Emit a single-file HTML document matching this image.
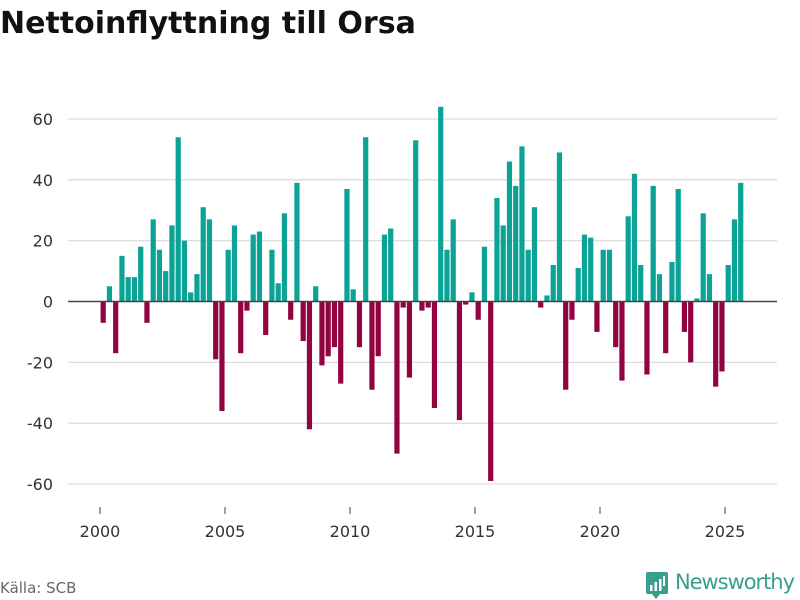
<!DOCTYPE html>
<html><head><meta charset="utf-8"><style>
body{margin:0;background:#fff;font-family:"Liberation Sans","DejaVu Sans",sans-serif;}
#wrap{position:relative;width:800px;height:600px;overflow:hidden;}
</style></head><body>
<div id="wrap">
<svg id="chart" width="800" height="600">
<text x="0" y="33" font-size="30" font-weight="bold" fill="#111" font-family="'DejaVu Sans',sans-serif">Nettoinflyttning till Orsa</text>
<g id="grid"></g><g id="bars"></g><g id="axes"></g>
<text x="0" y="593" font-size="15" fill="#666" font-family="'DejaVu Sans',sans-serif">Källa: SCB</text>
<g>
<rect x="646" y="572" width="22" height="22" rx="2" fill="#3a9e8e"/>
<polygon points="652,594 660,594 656,599" fill="#3a9e8e"/>
<rect x="650" y="585" width="2.5" height="6" fill="#fff"/><rect x="654.5" y="582" width="2.5" height="9" fill="#fff"/><rect x="659" y="579" width="2.5" height="12" fill="#fff"/><rect x="663" y="576" width="2" height="10" fill="#fff"/>
<text x="675" y="589" font-size="21" fill="#3a9e8e" font-family="'DejaVu Sans',sans-serif" textLength="120">Newsworthy</text>
</g>
</svg>
</div>
<script>
const years=[2000,2001,2002,2003,2004,2005,2006,2007,2008,2009,2010,2011,2012,2013,2014,2015,2016,2017,2018,2019,2020,2021,2022,2023,2024,2025];
const values=[-7,5,-17,15, 8,8,18,-7, 27,17,10,25, 54,20,3,9, 31,27,-19,-36, 17,25,-17,-3, 22,23,-11,17, 6,29,-6,39, -13,-42,5,-21, -18,-15,-27,37, 4,-15,54,-29, -18,22,24,-50, -2,-25,53,-3, -2,-35,64,17, 27,-39,-1,3, -6,18,-59,34, 25,46,38,51, 17,31,-2,2, 12,49,-29,-6, 11,22,21,-10, 17,17,-15,-26, 28,42,12,-24, 38,9,-17,13, 37,-10,-20,1, 29,9,-28,-23, 12,27,39];
const yTicks=[-60,-40,-20,0,20,40,60];
const xTicks=[2000,2005,2010,2015,2020,2025];
const NS="http://www.w3.org/2000/svg";
const x=t=>100+(t-2000)*25;
const y=v=>301.5-v*3.042;
const grid=document.getElementById('grid'),bars=document.getElementById('bars'),axes=document.getElementById('axes');
function mk(tag,attrs,parent){const e=document.createElementNS(NS,tag);for(const k in attrs)e.setAttribute(k,attrs[k]);parent.appendChild(e);return e;}
yTicks.forEach(v=>{
  if(v!==0){const l=mk('line',{x1:68,x2:777,y1:y(v),y2:y(v),stroke:'#ddd','stroke-width':1.3},grid);
  
  }
  const t=mk('text',{x:53,y:y(v)+6,'font-size':16,fill:'#333','text-anchor':'end','font-family':"'DejaVu Sans',sans-serif"},axes);
  t.textContent=v;
  
  
});
values.forEach((v,i)=>{
  const t=years[0]+i/4;
  const r=mk('rect',{x:x(t)+0.6,width:5.2,y:Math.min(y(v),y(0)),height:Math.abs(y(v)-y(0)),fill:v>=0?'#0aa396':'#920440'},bars);
  
  
});
const z=mk('line',{x1:68,x2:777,y1:y(0),y2:y(0),stroke:'#444','stroke-width':1.5},axes);


xTicks.forEach(t=>{
  const tk=mk('line',{x1:x(t),x2:x(t),y1:507,y2:514,stroke:'#444','stroke-width':1},axes);
  
  
  const l=mk('text',{x:x(t),y:537,'font-size':16,fill:'#333','text-anchor':'middle','font-family':"'DejaVu Sans',sans-serif"},axes);
  l.textContent=t;
  
  
});
</script>
</body></html>
